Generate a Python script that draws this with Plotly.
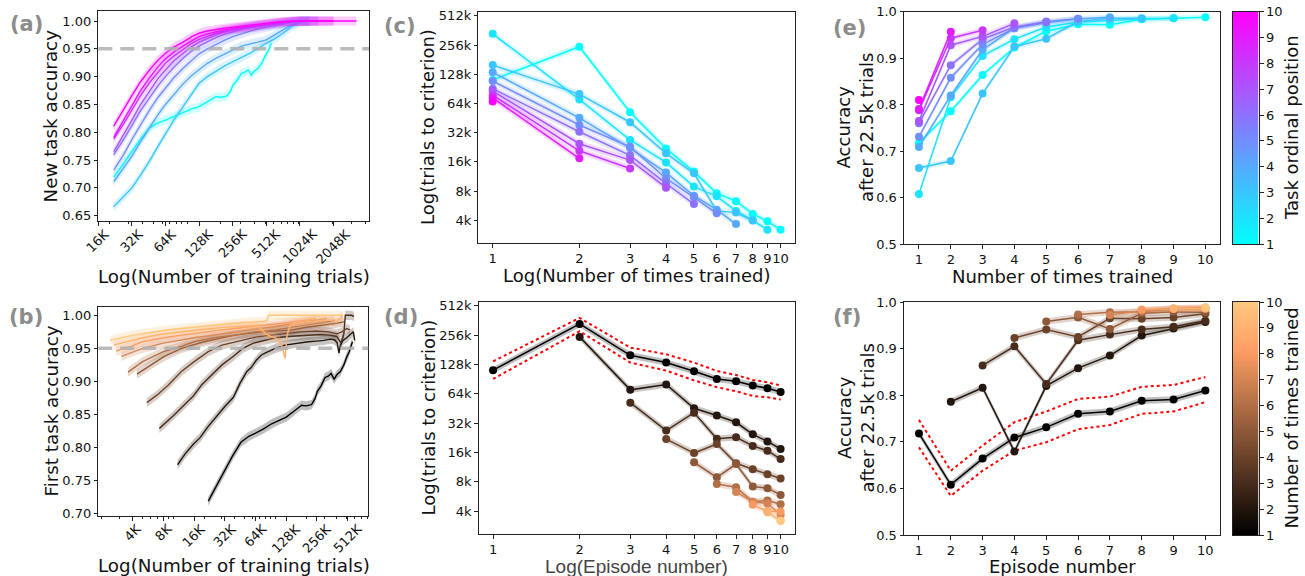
import math
import plotly.graph_objects as go

W, H = 1305, 576

# ===================== DATA =====================
# (a) New-task accuracy during first training; x = number of training trials (thousands)
a_trials = [22, 27, 32, 38, 46, 55, 64, 76, 92, 110, 128, 152, 181, 215, 258,
            307, 364, 430, 512, 610, 725, 860, 1024, 1250, 1500, 2048, 2900, 3300]
a_acc_task10 = [0.811, 0.842, 0.866, 0.890, 0.912, 0.930, 0.942, 0.953, 0.962, 0.972, 0.978, 0.982, 0.985, 0.987,
                0.989, 0.991, 0.993, 0.995, 0.996, 0.998, 0.999, 1.0, 1.0, 1.0, 1.0, 1.0, 1.0, 1.0]
a_acc_task9 = [0.791, 0.822, 0.848, 0.874, 0.898, 0.918, 0.932, 0.944, 0.955, 0.965, 0.972, 0.977, 0.981, 0.984,
               0.987, 0.989, 0.991, 0.993, 0.995, 0.997, 0.999, 1.0, 1.0, 1.0, 1.0, 1.0]
a_acc_task8 = [0.788, 0.815, 0.840, 0.865, 0.889, 0.909, 0.924, 0.937, 0.949, 0.960, 0.967, 0.973, 0.978, 0.982,
               0.985, 0.988, 0.990, 0.992, 0.994, 0.996, 0.998, 0.999, 1.0, 1.0, 1.0, 1.0]
a_acc_task7 = [0.765, 0.795, 0.822, 0.849, 0.875, 0.897, 0.912, 0.928, 0.942, 0.954, 0.962, 0.969, 0.975, 0.980,
               0.984, 0.987, 0.989, 0.991, 0.993, 0.995, 0.997, 0.999, 1.0, 1.0, 1.0]
a_acc_task6 = [0.760, 0.787, 0.812, 0.838, 0.862, 0.884, 0.900, 0.917, 0.933, 0.946, 0.955, 0.963, 0.970, 0.976,
               0.981, 0.985, 0.988, 0.990, 0.992, 0.994, 0.996, 0.998, 1.0, 1.0, 1.0]
a_acc_task5 = [0.732, 0.760, 0.787, 0.813, 0.840, 0.863, 0.880, 0.898, 0.915, 0.930, 0.941, 0.950, 0.958, 0.965,
               0.972, 0.977, 0.982, 0.986, 0.989, 0.992, 0.995, 0.998, 1.0, 1.0]
a_acc_task4 = [0.711, 0.735, 0.757, 0.782, 0.808, 0.832, 0.850, 0.868, 0.887, 0.902, 0.913, 0.924, 0.933, 0.941,
               0.948, 0.955, 0.958, 0.962, 0.966, 0.975, 0.985, 0.993, 0.999, 1.0]
a_acc_task3 = [0.666, 0.684, 0.700, 0.722, 0.748, 0.775, 0.798, 0.822, 0.846, 0.870, 0.888, 0.900, 0.910, 0.919,
               0.927, 0.934, 0.942, 0.950, 0.960, 0.968, 0.978, 0.990, 0.997, 1.0]
a_task1_trials = [22, 27, 32, 38, 46, 55, 64, 76, 92, 110, 128, 152, 181, 200, 226, 245, 258, 280, 307, 330,
                  352, 377, 400, 434, 470, 498, 530, 570]
a_acc_task1 = [0.719, 0.745, 0.765, 0.787, 0.808, 0.817, 0.822, 0.828, 0.836, 0.842, 0.846, 0.855, 0.864, 0.863,
               0.865, 0.874, 0.885, 0.893, 0.906, 0.908, 0.912, 0.903, 0.910, 0.915, 0.925, 0.936, 0.945, 0.960]
a_tasks = [1, 3, 4, 5, 6, 7, 8, 9, 10]
a_ticks = [16, 32, 64, 128, 256, 512, 1024, 2048]

# (b) First-task accuracy at its n-th training; x = number of training trials (thousands)
b_trials_n2 = [11, 13, 15.7, 18.3, 22, 26.6, 32, 38.8, 45, 52.6, 58, 65, 73, 82, 100, 124, 150, 174, 210, 253,
               300, 344, 380, 405, 420, 435, 460, 500, 540, 580, 600]
b_acc_n2 = [0.774, 0.790, 0.805, 0.815, 0.832, 0.848, 0.862, 0.876, 0.897, 0.915, 0.921, 0.932, 0.940, 0.944,
            0.950, 0.955, 0.957, 0.959, 0.960, 0.961, 0.962, 0.964, 0.963, 0.958, 0.943, 0.955, 0.962, 0.966,
            0.970, 0.975, 0.962]
b_trials_n3 = [7.3, 8.5, 10, 11.6, 13.5, 15.7, 19, 24.8, 30, 38.8, 48, 61, 80, 100, 130, 170, 220, 280, 340,
               400, 440, 470, 485, 520, 560, 590]
b_acc_n3 = [0.829, 0.838, 0.848, 0.858, 0.868, 0.878, 0.895, 0.913, 0.925, 0.938, 0.950, 0.958, 0.963, 0.966,
            0.968, 0.969, 0.970, 0.971, 0.970, 0.968, 0.958, 0.972, 1.0, 1.0, 1.0, 0.998]
b_trials_n4 = [5.5, 7, 9, 12, 16, 22, 30, 45, 64, 90, 128, 180, 250, 330, 400, 450, 500, 540]
b_acc_n4 = [0.868, 0.880, 0.895, 0.915, 0.930, 0.945, 0.955, 0.962, 0.967, 0.970, 0.973, 0.975, 0.976, 0.975,
            0.972, 0.975, 0.980, 0.978]
b_trials_n5 = [4.4, 6, 8, 12, 20, 40, 64, 100, 150, 200, 300, 400, 470]
b_acc_n5 = [0.911, 0.925, 0.937, 0.950, 0.960, 0.970, 0.974, 0.976, 0.978, 0.982, 0.985, 0.988, 0.990]
b_trials_n6 = [3.6, 5, 8, 12, 16, 25, 40, 64, 100, 150, 220, 300, 380]
b_acc_n6 = [0.914, 0.930, 0.945, 0.953, 0.960, 0.966, 0.970, 0.975, 0.978, 0.982, 0.986, 0.990, 0.992]
b_trials_n7 = [3.1, 4, 5, 8, 12, 16, 25, 40, 64, 100, 140, 200, 260, 320]
b_acc_n7 = [0.938, 0.945, 0.950, 0.958, 0.963, 0.966, 0.970, 0.975, 0.979, 0.983, 0.986, 0.990, 0.993, 0.995]
b_trials_n8 = [2.75, 4, 5, 8, 12, 20, 30, 50, 80, 120, 180, 250]
b_acc_n8 = [0.946, 0.954, 0.960, 0.966, 0.970, 0.975, 0.978, 0.982, 0.985, 0.988, 0.992, 0.995]
b_trials_n9 = [2.6, 3.5, 5, 8, 12, 20, 32, 50, 64, 72, 80, 90, 100, 110, 118, 125, 130, 140, 160, 200, 260,
               330, 400, 440, 460]
b_acc_n9 = [0.955, 0.960, 0.966, 0.972, 0.975, 0.979, 0.982, 0.984, 0.985, 0.980, 0.972, 0.968, 0.966, 0.962,
            0.950, 0.935, 0.970, 0.985, 0.988, 0.990, 0.992, 0.993, 0.990, 0.998, 1.0]
b_trials_n10 = [2.4, 3, 4, 6, 8, 12, 16, 24, 32, 48, 64, 80, 84, 86, 120, 200, 300, 400, 450]
b_acc_n10 = [0.962, 0.966, 0.970, 0.974, 0.977, 0.980, 0.982, 0.985, 0.987, 0.989, 0.990, 0.991, 0.995, 1.0,
             1.0, 1.0, 1.0, 1.0, 1.0]
b_ticks = [4, 8, 16, 32, 64, 128, 256, 512]

# (c)/(d) trials to criterion (thousands); entry i = (i+1)-th time the task was trained
crit_task1 = [112, 246, 52, 22, 12.7, 7.6, 6.3, 4.65, 3.9, 3.2]
crit_task2 = [334, 70.4, 26.9, 15.8, 8.9, 7.06, 5.0, 4.0, 3.2]
crit_task3 = [159, 80, 41, 19.6, 12.2, 5.0, 4.8, 3.97]
crit_task4 = [134, 45.5, 22.2, 12.4, 7.17, 5.15, 3.66]
crit_task5 = [109, 38.4, 22.9, 10.8, 6.9, 4.72]
crit_task6 = [91, 32.7, 18.7, 9.6, 5.88]
crit_task7 = [86, 24.6, 16.7, 8.67]
crit_task8 = [78, 20.8, 13.7]
crit_task9 = [73, 17.4]
crit_task10 = [67]
crit_ticks = [4, 8, 16, 32, 64, 128, 256, 512]
d_upper = [138, 385, 191, 163, 134, 110, 100, 89, 84, 78]
d_lower = [91, 281, 134, 111, 88, 75, 68, 61, 59, 56]

# (e)/(f) accuracy after 22.5k trials; entry i = (i+1)-th time the task was trained
acc_task1 = [0.718, 0.786, 0.864, 0.923, 0.958, 0.973, 0.972, 0.984, 0.986, 0.988]
acc_task2 = [0.608, 0.816, 0.905, 0.941, 0.967, 0.978, 0.981, 0.985, 0.986]
acc_task3 = [0.664, 0.679, 0.824, 0.925, 0.942, 0.979, 0.986, 0.986]
acc_task4 = [0.709, 0.820, 0.918, 0.965, 0.976, 0.985, 0.988]
acc_task5 = [0.731, 0.858, 0.930, 0.964, 0.979, 0.985]
acc_task6 = [0.760, 0.885, 0.941, 0.967, 0.978]
acc_task7 = [0.765, 0.928, 0.947, 0.975]
acc_task8 = [0.788, 0.943, 0.960]
acc_task9 = [0.791, 0.957]
acc_task10 = [0.810]
f_upper = [0.747, 0.638, 0.692, 0.742, 0.765, 0.792, 0.797, 0.818, 0.822, 0.839]
f_lower = [0.688, 0.584, 0.638, 0.681, 0.699, 0.727, 0.736, 0.760, 0.765, 0.785]

colorbar_ticks = list(range(1, 11))

# ===================== HELPERS =====================
def cool(t):
    return (round(255 * t), round(255 * (1 - t)), 255)

def copper(t):
    return (round(255 * min(1.0, 1.25 * t)), round(255 * 0.7812 * t), round(255 * 0.4975 * t))

def rgb(c):
    return "rgb(%d,%d,%d)" % c

def rgba(c, a):
    return "rgba(%d,%d,%d,%.3f)" % (c[0], c[1], c[2], a)

fig = go.Figure()

def add_series(x, y, color, xa, ya, half=None, ratio=None, markers=False, width=1.4, alpha=0.22):
    if half is not None or ratio is not None:
        if ratio is not None:
            up = [v * ratio for v in y]
            lo = [v / ratio for v in y]
        else:
            up = [v + half for v in y]
            lo = [v - half for v in y]
        fig.add_trace(go.Scatter(x=list(x) + list(x)[::-1], y=up + lo[::-1], fill="toself",
                                 fillcolor=rgba(color, alpha), line=dict(width=0), mode="lines",
                                 hoverinfo="skip", showlegend=False, xaxis=xa, yaxis=ya))
    fig.add_trace(go.Scatter(x=x, y=y, mode="lines+markers" if markers else "lines",
                             line=dict(color=rgb(color), width=width),
                             marker=dict(size=8, color=rgb(color)),
                             showlegend=False, xaxis=xa, yaxis=ya))

# ----- (a)
a_curves = {1: (a_task1_trials, a_acc_task1), 3: (a_trials, a_acc_task3), 4: (a_trials, a_acc_task4),
            5: (a_trials, a_acc_task5), 6: (a_trials, a_acc_task6), 7: (a_trials, a_acc_task7),
            8: (a_trials, a_acc_task8), 9: (a_trials, a_acc_task9), 10: (a_trials, a_acc_task10)}
for k in a_tasks:
    xs, ys = a_curves[k]
    add_series(xs[:len(ys)], ys, cool((k - 1) / 9), "x", "y", half=0.008, alpha=0.2)

# ----- (b)
b_curves = [(a_task1_trials, a_acc_task1), (b_trials_n2, b_acc_n2), (b_trials_n3, b_acc_n3),
            (b_trials_n4, b_acc_n4), (b_trials_n5, b_acc_n5), (b_trials_n6, b_acc_n6),
            (b_trials_n7, b_acc_n7), (b_trials_n8, b_acc_n8), (b_trials_n9, b_acc_n9),
            (b_trials_n10, b_acc_n10)]
for n, (xs, ys) in enumerate(b_curves, start=1):
    add_series(xs, ys, copper((n - 1) / 9), "x2", "y2", half=0.007, alpha=0.25)

crit = [crit_task1, crit_task2, crit_task3, crit_task4, crit_task5, crit_task6, crit_task7, crit_task8,
        crit_task9, crit_task10]
acc = [acc_task1, acc_task2, acc_task3, acc_task4, acc_task5, acc_task6, acc_task7, acc_task8,
       acc_task9, acc_task10]

# ----- (c) per task vs times trained
for k, vals in enumerate(crit, start=1):
    add_series(list(range(1, len(vals) + 1)), vals, cool((k - 1) / 9), "x3", "y3", ratio=1.08,
               markers=True, width=1.5, alpha=0.2)

# ----- (e)
for k, vals in enumerate(acc, start=1):
    add_series(list(range(1, len(vals) + 1)), vals, cool((k - 1) / 9), "x5", "y5", half=0.006,
               markers=True, width=1.5, alpha=0.2)

# ----- (d)/(f) per times-trained vs episode
episodes = list(range(1, 11))
for yv, xa, ya in [(d_upper, "x4", "y4"), (d_lower, "x4", "y4"), (f_upper, "x6", "y6"), (f_lower, "x6", "y6")]:
    fig.add_trace(go.Scatter(x=episodes, y=yv, mode="lines", line=dict(color="red", width=2, dash="dot"),
                             showlegend=False, xaxis=xa, yaxis=ya))
for n in range(1, 11):
    eps = list(range(n, 11))
    dv = [crit[e - n][n - 1] for e in eps]
    fv = [acc[e - n][n - 1] for e in eps]
    col = copper((n - 1) / 9)
    add_series(eps, dv, col, "x4", "y4", ratio=1.08, markers=True, width=1.5, alpha=0.25)
    add_series(eps, fv, col, "x6", "y6", half=0.007, markers=True, width=1.5, alpha=0.25)

# colorbars drawn as gradient heatmaps on their own axes
cool_scale = [[0, "rgb(0,255,255)"], [1, "rgb(255,0,255)"]]
copper_scale = [[0, "rgb(0,0,0)"], [0.8, rgb(copper(0.8))], [1, rgb(copper(1.0))]]
grad = [1 + i * 0.05 for i in range(181)]
for scale, xa, ya in [(cool_scale, "x7", "y7"), (copper_scale, "x8", "y8")]:
    fig.add_trace(go.Heatmap(x=[0], y=grad, z=[[v] for v in grad], colorscale=scale, zmin=1, zmax=10,
                             showscale=False, hoverinfo="skip", xaxis=xa, yaxis=ya))

# ===================== LAYOUT =====================
def xd(p0, p1):
    return [p0 / W, p1 / W]

def yd(p0, p1):
    return [1 - p1 / H, 1 - p0 / H]

def axis(domain, rng, anchor, typ="linear", tickvals=None, ticktext=None, minor=None, labels=True):
    d = dict(domain=domain, range=rng, anchor=anchor, type=typ, showgrid=False, zeroline=False,
             showline=True, mirror=True, linecolor="#222", linewidth=1, ticks="outside", ticklen=3.5,
             tickwidth=1, tickcolor="#222", tickfont=dict(size=13, color="#111"), tickangle=0,
             showticklabels=labels, automargin=False)
    if tickvals is not None:
        d["tickmode"] = "array"
        d["tickvals"] = tickvals
        d["ticktext"] = ticktext if ticktext is not None else [str(v) for v in tickvals]
    if minor is not None:
        d["minor"] = dict(tickmode="array", tickvals=minor, ticks="outside", ticklen=2, tickcolor="#222")
    return d

a_minor = [m * 10 ** e for e in (1, 2, 3) for m in range(1, 10) if 16 < m * 10 ** e < 4200]
b_minor = [m * 10 ** e for e in (0, 1, 2) for m in range(1, 10) if 1.9 < m * 10 ** e < 810]
ep_ticks = list(range(1, 11))
acc_ticks = [0.5, 0.6, 0.7, 0.8, 0.9, 1.0]

def cbar_x(domain, anchor):
    return dict(domain=domain, range=[-0.5, 0.5], anchor=anchor, showgrid=False, zeroline=False,
                showline=True, mirror=True, linecolor="#222", linewidth=1, ticks="", showticklabels=False,
                automargin=False)

def cbar_y(domain, anchor):
    return dict(domain=domain, range=[1, 10], anchor=anchor, side="right", showgrid=False, zeroline=False,
                showline=True, mirror=True, linecolor="#222", linewidth=1, ticks="outside", ticklen=4,
                tickcolor="#222", tickmode="array", tickvals=colorbar_ticks,
                ticktext=[str(v) for v in colorbar_ticks], tickfont=dict(size=13, color="#111"),
                automargin=False)

A_X = [98.3, 369]
A_Y = [11, 221]
B_X = [98.3, 368.3]
B_Y = [306.7, 516]
a_xrange = [math.log10(16), math.log10(4270)]
b_xrange = [math.log10(1.84), math.log10(815)]

fig.update_layout(
    width=W, height=H, margin=dict(l=0, r=0, t=0, b=0, autoexpand=False), paper_bgcolor="white",
    plot_bgcolor="white", font=dict(family="DejaVu Sans", color="#111"),
    xaxis=axis(xd(*A_X), a_xrange, "y", "log", a_ticks, minor=a_minor, labels=False),
    yaxis=axis(yd(*A_Y), [0.6405, 1.018], "x", tickvals=[0.65, 0.70, 0.75, 0.80, 0.85, 0.90, 0.95, 1.00],
               ticktext=["0.65", "0.70", "0.75", "0.80", "0.85", "0.90", "0.95", "1.00"]),
    xaxis2=axis(xd(*B_X), b_xrange, "y2", "log", b_ticks, minor=b_minor, labels=False),
    yaxis2=axis(yd(*B_Y), [0.6965, 1.013], "x2", tickvals=[0.70, 0.75, 0.80, 0.85, 0.90, 0.95, 1.00],
                ticktext=["0.70", "0.75", "0.80", "0.85", "0.90", "0.95", "1.00"]),
    xaxis3=axis(xd(478.3, 795), [-0.05, 1.05], "y3", "log", ep_ticks),
    yaxis3=axis(yd(11.7, 243.3), [0.365, 2.752], "x3", "log", crit_ticks, ["%dk" % v for v in crit_ticks]),
    xaxis4=axis(xd(478.7, 795), [-0.05, 1.05], "y4", "log", ep_ticks),
    yaxis4=axis(yd(301.7, 534.3), [0.365, 2.752], "x4", "log", crit_ticks, ["%dk" % v for v in crit_ticks]),
    xaxis5=axis(xd(904, 1220), [0.53, 10.46], "y5", tickvals=ep_ticks),
    yaxis5=axis(yd(11.7, 244.3), [0.5, 1.0], "x5", tickvals=acc_ticks, ticktext=["%.1f" % v for v in acc_ticks]),
    xaxis6=axis(xd(904, 1220), [0.53, 10.46], "y6", tickvals=ep_ticks),
    yaxis6=axis(yd(302, 535), [0.5, 1.0], "x6", tickvals=acc_ticks, ticktext=["%.1f" % v for v in acc_ticks]),
    xaxis7=cbar_x(xd(1232.5, 1258.5), "y7"),
    yaxis7=cbar_y(yd(11.7, 244.3), "x7"),
    xaxis8=cbar_x(xd(1232.5, 1258.5), "y8"),
    yaxis8=cbar_y(yd(302, 535), "x8"),
)

# dashed criterion lines
for xa, ya in [("x", "y"), ("x2", "y2")]:
    fig.add_shape(type="line", xref=xa + " domain", yref=ya, x0=0, x1=1, y0=0.95, y1=0.95,
                  line=dict(color="rgba(175,175,175,0.85)", width=3.5, dash="14px,8px"), layer="above")

def ann(text, px, py, size=18, angle=0, color="#111", family="DejaVu Sans", xanchor="center",
        yanchor="middle"):
    fig.add_annotation(text=text, x=px / W, y=1 - py / H, xref="paper", yref="paper", showarrow=False,
                       textangle=angle, font=dict(size=size, color=color, family=family),
                       xanchor=xanchor, yanchor=yanchor)

# rotated, centre-aligned tick labels for the log axes of (a) and (b)
for ticks, px_rng, lrng, top in [(a_ticks, A_X, a_xrange, A_Y[1]), (b_ticks, B_X, b_xrange, B_Y[1])]:
    for v in ticks:
        px = px_rng[0] + (math.log10(v) - lrng[0]) / (lrng[1] - lrng[0]) * (px_rng[1] - px_rng[0])
        ann("%dK" % v, px, top + 2.5, size=13, angle=-45, yanchor="top")

# panel letters
for lab, px, py in [("(a)", 26.5, 24), ("(b)", 26.5, 317), ("(c)", 400, 26), ("(d)", 400.5, 317),
                    ("(e)", 849, 27.5), ("(f)", 846.5, 317)]:
    ann("<b>%s</b>" % lab, px, py, size=21, color="#8c8c8c")

# axis titles
ann("New task accuracy", 50.5, 116, size=18.3, angle=-90)
ann("Log(Number of training trials)", 233.5, 276.5, size=18.3)
ann("First task accuracy", 50.5, 411, size=18.3, angle=-90)
ann("Log(Number of training trials)", 233.5, 565.5, size=18.3)
ann("Log(trials to criterion)", 427.5, 127.5, angle=-90)
ann("Log(Number of times trained)", 636.7, 275.5)
ann("Log(trials to criterion)", 427.5, 418, angle=-90)
ann("Log(Episode number)", 636.7, 566, size=19, color="#444", family="Liberation Sans")
ann("Accuracy<br>after 22.5k trials", 855, 128, angle=-90)
ann("Number of times trained", 1062, 276.5)
ann("Accuracy<br>after 22.5k trials", 855, 418.5, angle=-90)
ann("Episode number", 1062, 566.5)
ann("Task ordinal position", 1291, 128, angle=-90)
ann("Number of times trained", 1291, 418.5, angle=-90)

fig.write_html("out.html", config={"displayModeBar": False},
               post_script="document.body.style.margin='0';document.body.style.overflow='hidden';")
